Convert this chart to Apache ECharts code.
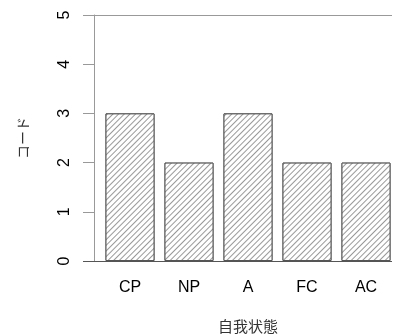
<!DOCTYPE html>
<html>
<head>
<meta charset="utf-8">
<script src="https://cdn.jsdelivr.net/npm/echarts@6/dist/echarts.min.js"></script>
<style>
  html, body { margin: 0; padding: 0; background: #fff; }
  #chart { width: 393px; height: 334px; }
</style>
</head>
<body>
<div id="chart"></div>
<script>
// Ego-state codes per category
const categories = ['CP', 'NP', 'A', 'FC', 'AC'];
const codes = [3, 2, 3, 2, 2];
const yTicks = [0, 1, 2, 3, 4, 5];

const FONT = '"Liberation Sans", Arial, sans-serif';
const CJK = '"Noto Sans CJK JP", sans-serif';

const chart = echarts.init(document.getElementById('chart'), null, { renderer: 'canvas' });

chart.setOption({
  animation: false,
  backgroundColor: '#ffffff',
  grid: [
    { left: 100.5, width: 295, top: 15, bottom: 73, outerBoundsMode: 'none', containLabel: false },
    // frame grid used for the horizontal rules at 0 and 5
    { left: 83, right: 1, top: 15, bottom: 73, outerBoundsMode: 'none', containLabel: false }
  ],
  xAxis: [
    {
      type: 'category',
      gridIndex: 0,
      data: categories,
      axisLine: { show: false },
      axisTick: { show: false },
      axisLabel: { color: '#000', fontFamily: FONT, fontSize: 16, margin: 19 },
      name: '自我状態',
      nameLocation: 'middle',
      nameGap: 58,
      nameTextStyle: { color: '#333', fontFamily: CJK, fontSize: 15 }
    },
    { type: 'value', gridIndex: 1, min: 0, max: 1, show: false }
  ],
  yAxis: [
    {
      type: 'value',
      gridIndex: 0,
      min: yTicks[0],
      max: yTicks[yTicks.length - 1],
      interval: 1,
      offset: 6.5,
      axisLine: { show: true, lineStyle: { color: '#999', width: 1 } },
      axisTick: { show: true, length: 11, lineStyle: { color: '#999', width: 1 } },
      splitLine: { show: false },
      axisLabel: { color: '#000', fontFamily: FONT, fontSize: 16, rotate: 90, margin: 21 },
      name: 'コード',
      nameLocation: 'middle',
      nameRotate: 90,
      nameGap: 64,
      nameTextStyle: { color: '#333', fontFamily: CJK, fontSize: 14 }
    },
    { type: 'value', gridIndex: 1, min: 0, max: 5, show: false }
  ],
  series: [
    {
      type: 'line',
      xAxisIndex: 1,
      yAxisIndex: 1,
      data: [],
      silent: true,
      markLine: {
        silent: true,
        symbol: 'none',
        label: { show: false },
        data: [
          { yAxis: 0, lineStyle: { color: '#555', width: 1, type: 'solid' } },
          { yAxis: 5, lineStyle: { color: '#999', width: 1, type: 'solid' } }
        ]
      }
    },
    {
      type: 'bar',
      xAxisIndex: 0,
      yAxisIndex: 0,
      data: codes,
      barWidth: 49,
      z: 3,
      itemStyle: {
        color: '#ffffff',
        borderColor: '#555',
        borderWidth: 1,
        decal: {
          symbol: 'rect',
          symbolSize: 1,
          dashArrayX: [1, 0],
          dashArrayY: [1, 3],
          rotation: -Math.PI / 4,
          color: '#999',
          backgroundColor: '#ffffff'
        }
      }
    }
  ]
});
</script>
</body>
</html>
